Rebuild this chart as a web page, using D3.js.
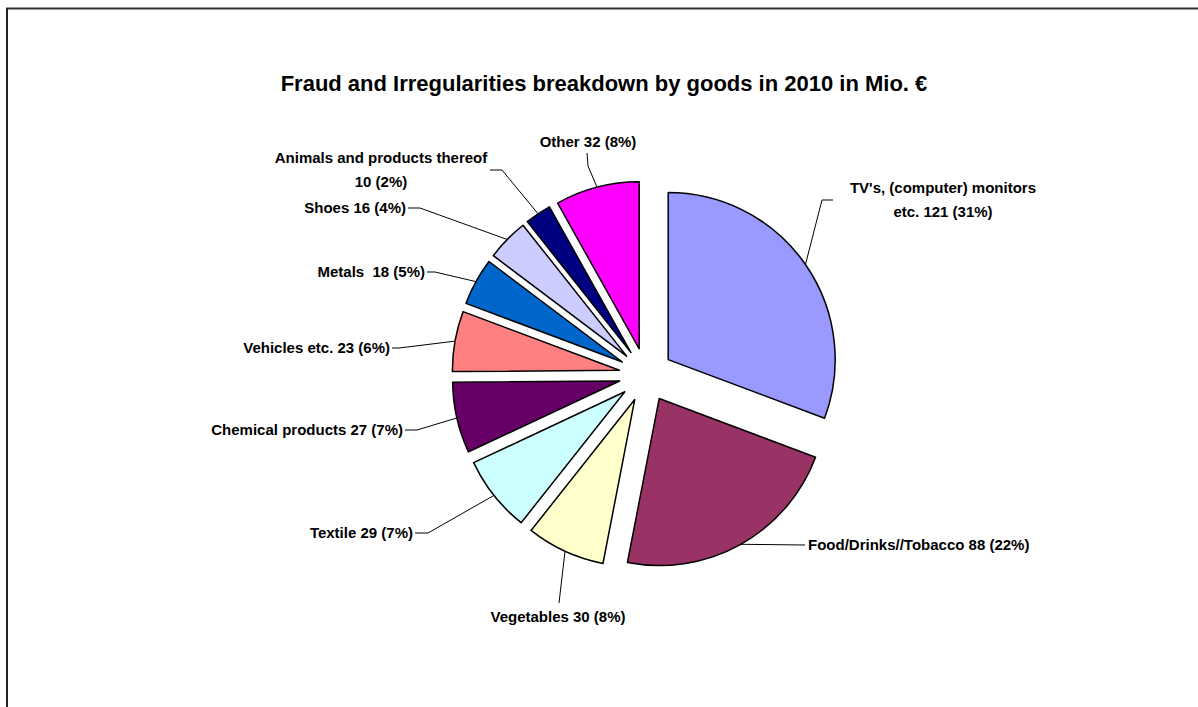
<!DOCTYPE html>
<html>
<head>
<meta charset="utf-8">
<script src="https://cdn.jsdelivr.net/npm/d3@7"></script>
<style>
  html, body { margin: 0; padding: 0; background: #fff; }
  svg { display: block; }
  text { font-family: "Liberation Sans", Arial, sans-serif; font-weight: bold; fill: #000; white-space: pre; }
</style>
</head>
<body>
<svg id="chart" width="1198" height="707"></svg>
<script>
// ---- data ----
const title = "Fraud and Irregularities breakdown by goods in 2010 in Mio. €";
const categories = [
  "TV's, (computer) monitors etc.",
  "Food/Drinks//Tobacco",
  "Vegetables",
  "Textile",
  "Chemical products",
  "Vehicles etc.",
  "Metals",
  "Shoes",
  "Animals and products thereof",
  "Other"
];
const values = [121, 88, 30, 29, 27, 23, 18, 16, 10, 32];
const percentLabels = ["31%", "22%", "8%", "7%", "7%", "6%", "5%", "4%", "2%", "8%"];
const colors = ["#9999FF", "#993366", "#FFFFCC", "#CCFFFF", "#660066", "#FF8080", "#0066CC", "#CCCCFF", "#000080", "#FF00FF"];
const labelLines = [
  ["TV's, (computer) monitors", "etc. 121 (31%)"],
  ["Food/Drinks//Tobacco 88 (22%)"],
  ["Vegetables 30 (8%)"],
  ["Textile 29 (7%)"],
  ["Chemical products 27 (7%)"],
  ["Vehicles etc. 23 (6%)"],
  ["Metals  18 (5%)"],
  ["Shoes 16 (4%)"],
  ["Animals and products thereof", "10 (2%)"],
  ["Other 32 (8%)"]
];

// ---- layout ----
const W = 1198, H = 707;
const cx = 646, cy = 375, R = 167, explode = 27;
// label layout: text anchor point (x, first baseline), anchor, leader start & elbow
const labelLayout = [
  {x: 943, y: 193, anchor: "middle", lead: [[833, 200], [822, 200]]},
  {x: 808, y: 550, anchor: "start",  lead: [[805, 545]]},
  {x: 558, y: 622, anchor: "middle", lead: [[559, 603]]},
  {x: 413, y: 538, anchor: "end",    lead: [[415, 533], [428, 533]]},
  {x: 403, y: 435, anchor: "end",    lead: [[405, 430], [417, 430]]},
  {x: 390, y: 353, anchor: "end",    lead: [[392, 348], [399, 348]]},
  {x: 425, y: 277, anchor: "end",    lead: [[427, 272], [435, 272]]},
  {x: 406, y: 213, anchor: "end",    lead: [[408, 208], [420, 208]]},
  {x: 381, y: 163, anchor: "middle", lead: [[490, 170], [502, 170]]},
  {x: 588, y: 147, anchor: "middle", lead: [[587, 153], [588, 166]]}
];

const svg = d3.select("#chart");

// frame
svg.append("line").attr("x1", 6).attr("y1", 8.5).attr("x2", W).attr("y2", 8.5)
  .attr("stroke", "#333").attr("stroke-width", 2);
svg.append("line").attr("x1", 7).attr("y1", 8).attr("x2", 7).attr("y2", H)
  .attr("stroke", "#222").attr("stroke-width", 2);

// title
svg.append("text")
  .attr("x", 604).attr("y", 91)
  .attr("text-anchor", "middle")
  .style("font-size", "22px")
  .text(title);

const pie = d3.pie().sort(null).value(d => d).startAngle(0).endAngle(2 * Math.PI);
const arcs = pie(values);
const arcGen = d3.arc().innerRadius(0).outerRadius(R);

const g = svg.append("g").attr("transform", `translate(${cx},${cy})`);

function offsetOf(a) {
  const m = (a.startAngle + a.endAngle) / 2;
  return [explode * Math.sin(m), -explode * Math.cos(m)];
}

g.selectAll("path.slice")
  .data(arcs)
  .join("path")
  .attr("class", "slice")
  .attr("d", arcGen)
  .attr("transform", d => { const o = offsetOf(d); return `translate(${o[0]},${o[1]})`; })
  .attr("fill", (d, i) => colors[i])
  .attr("stroke", "#000")
  .attr("stroke-width", 1.5)
  .attr("stroke-linejoin", "round");

// leader lines
const line = d3.line();
arcs.forEach((a, i) => {
  const m = (a.startAngle + a.endAngle) / 2;
  const o = offsetOf(a);
  const px = cx + o[0] + R * Math.sin(m);
  const py = cy + o[1] - R * Math.cos(m);
  const pts = labelLayout[i].lead.concat([[px, py]]);
  svg.append("path")
    .attr("d", line(pts))
    .attr("fill", "none")
    .attr("stroke", "#000")
    .attr("stroke-width", 1);
});

// labels
labelLines.forEach((lines, i) => {
  const L = labelLayout[i];
  const t = svg.append("text")
    .attr("text-anchor", L.anchor)
    .style("font-size", "15px");
  lines.forEach((s, k) => {
    t.append("tspan").attr("x", L.x).attr("y", L.y + k * 24).text(s);
  });
});
</script>
</body>
</html>
